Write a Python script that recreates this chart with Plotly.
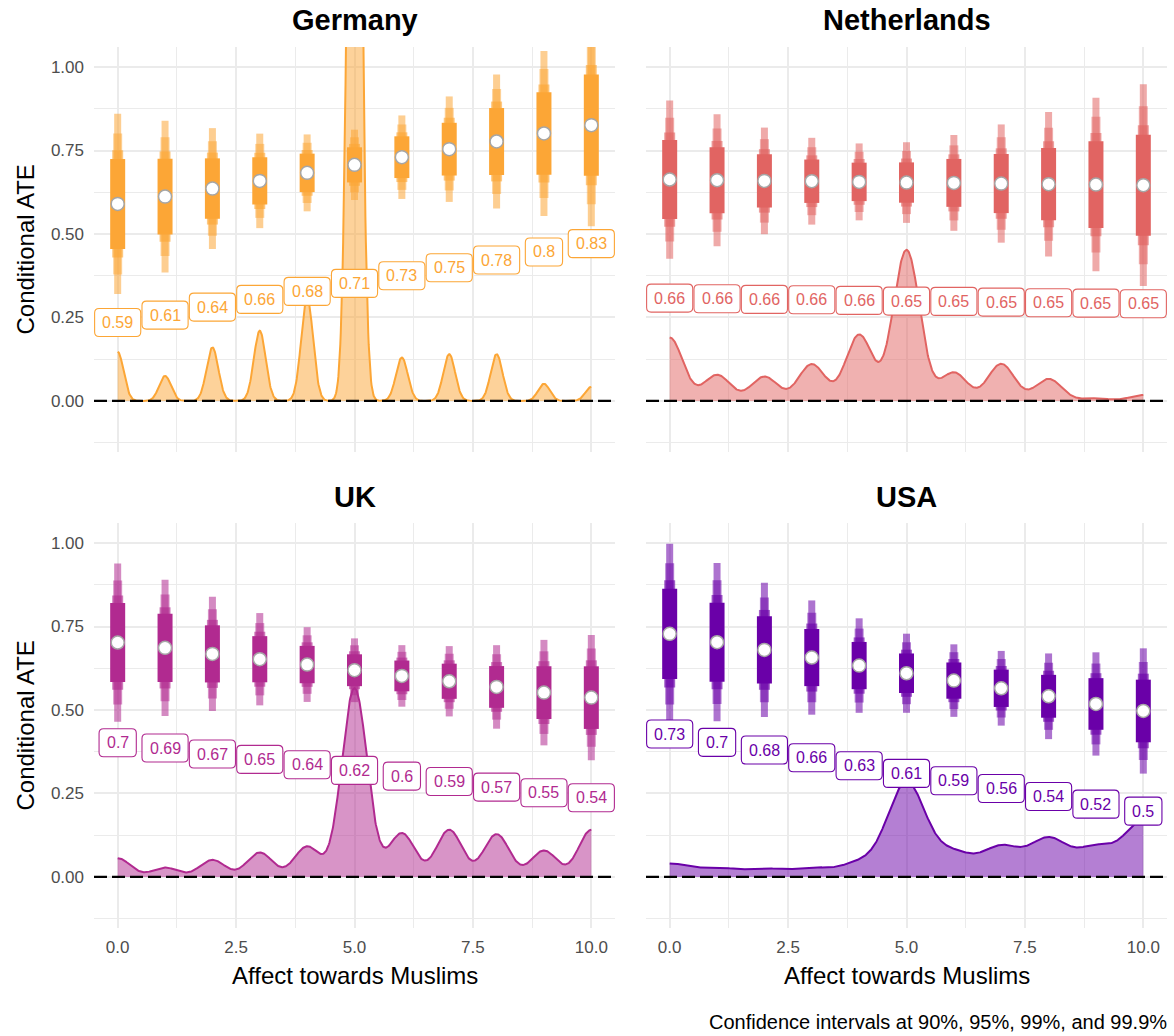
import numpy as np
import plotly.graph_objects as go

# ---------------- data ----------------
countries = ["Germany", "Netherlands", "UK", "USA"]
affect = [0, 1, 2, 3, 4, 5, 6, 7, 8, 9, 10]

ate_germany = [0.590, 0.612, 0.636, 0.659, 0.683, 0.707, 0.730, 0.754, 0.777, 0.801, 0.826]
ate_netherlands = [0.663, 0.661, 0.659, 0.658, 0.656, 0.654, 0.653, 0.651, 0.649, 0.648, 0.646]
ate_uk = [0.702, 0.686, 0.668, 0.652, 0.636, 0.619, 0.602, 0.586, 0.569, 0.552, 0.537]
ate_usa = [0.728, 0.703, 0.680, 0.657, 0.633, 0.610, 0.588, 0.565, 0.541, 0.518, 0.497]

se_germany = [0.082, 0.069, 0.055, 0.043, 0.035, 0.032, 0.038, 0.048, 0.061, 0.075, 0.092]
se_netherlands = [0.072, 0.060, 0.0485, 0.0395, 0.035, 0.0367, 0.0436, 0.0538, 0.0658, 0.0789, 0.0918]
se_uk = [0.072, 0.062, 0.052, 0.042, 0.034, 0.029, 0.028, 0.032, 0.038, 0.048, 0.057]
se_usa = [0.082, 0.072, 0.061, 0.052, 0.043, 0.036, 0.033, 0.034, 0.039, 0.047, 0.057]

# distribution of the moderator (density peak heights at each scale value)
density_germany = [0.147, 0.075, 0.160, 0.210, 0.310, 3.00, 0.130, 0.140, 0.140, 0.051, 0.042]
density_netherlands = [0.190, 0.078, 0.073, 0.110, 0.198, 0.452, 0.085, 0.111, 0.066, 0.008, 0.018]
density_uk = [0.056, 0.028, 0.051, 0.073, 0.091, 0.565, 0.131, 0.141, 0.128, 0.079, 0.141]
density_usa = [0.039, 0.026, 0.024, 0.026, 0.040, 0.280, 0.068, 0.088, 0.112, 0.085, 0.165]
density_bandwidth = [0.125, 0.28, 0.27, 0.40]

ci_levels = ["90%", "95%", "99%", "99.9%"]
ci_z = [1.645, 1.960, 2.576, 3.291]

x_tickvals = [0, 2.5, 5, 7.5, 10]
x_ticktext = ["0.0", "2.5", "5.0", "7.5", "10.0"]
y_tickvals = [0, 0.25, 0.5, 0.75, 1.0]
y_ticktext = ["0.00", "0.25", "0.50", "0.75", "1.00"]

x_title = "Affect towards Muslims"
y_title = "Conditional ATE"
caption = "Confidence intervals at 90%, 95%, 99%, and 99.9%"

# ---------------- style ----------------
colors = ["#FCA636", "#E16462", "#B12A90", "#6A00A8"]
label_offset = [0.355, 0.355, 0.30, 0.30]
ci_width = [15, 11, 9, 7]
ci_alpha = [1.0, 0.6, 0.5, 0.55]
FONT = "Liberation Sans, Arial, Helvetica, sans-serif"
LABEL_SIZE = 16
W, H = 1174, 1036
Y_RANGE = [-0.153, 1.06]

ates = [ate_germany, ate_netherlands, ate_uk, ate_usa]
ses = [se_germany, se_netherlands, se_uk, se_usa]
dens = [density_germany, density_netherlands, density_uk, density_usa]

# panel pixel boxes: (left, right, top, bottom)
panels_px = [(94, 615, 47, 452), (646, 1167, 47, 452),
             (94, 615, 523, 928), (646, 1167, 523, 928)]


def rgba(hexc, a):
    hexc = hexc.lstrip("#")
    r, g, b = int(hexc[0:2], 16), int(hexc[2:4], 16), int(hexc[4:6], 16)
    return f"rgba({r},{g},{b},{a})"


def fmt(v):
    s = f"{round(v, 2):.2f}"
    return s.rstrip("0").rstrip(".")


def text_width(s, size):
    wmap = {".": 0.278}
    return sum(wmap.get(ch, 0.556) for ch in s) * size


def rounded_box(w, h, r):
    a, b = w / 2, h / 2
    return (f"M {-a + r},{-b} L {a - r},{-b} Q {a},{-b} {a},{-b + r} "
            f"L {a},{b - r} Q {a},{b} {a - r},{b} L {-a + r},{b} "
            f"Q {-a},{b} {-a},{b - r} L {-a},{-b + r} Q {-a},{-b} {-a + r},{-b} Z")


fig = go.Figure()
annotations = []
shapes = []

xs = np.linspace(0, 10, 1001)

for i, c in enumerate(countries):
    ax = "" if i == 0 else str(i + 1)
    xref, yref = "x" + ax, "y" + ax
    col = colors[i]
    est = np.array(ates[i])
    se = np.array(ses[i])

    # density
    bw = density_bandwidth[i]
    dy = np.zeros_like(xs)
    for k, p in zip(affect, dens[i]):
        dy += p * np.exp(-((xs - k) ** 2) / (2 * bw ** 2))
    fig.add_trace(go.Scatter(x=xs, y=dy, mode="lines", xaxis=xref, yaxis=yref,
                             line=dict(color=col, width=2), fill="tozeroy",
                             fillcolor=rgba(col, 0.5), hoverinfo="skip",
                             showlegend=False))

    # confidence intervals, widest level first
    for lv in range(len(ci_levels) - 1, -1, -1):
        bx, by = [], []
        for k, e, s in zip(affect, est, se):
            bx += [k, k, None]
            by += [e - ci_z[lv] * s, e + ci_z[lv] * s, None]
        fig.add_trace(go.Scatter(x=bx, y=by, mode="lines", xaxis=xref, yaxis=yref,
                                 line=dict(color=rgba(col, ci_alpha[lv]), width=ci_width[lv]),
                                 name=ci_levels[lv], hoverinfo="skip", showlegend=False))

    # point estimates
    fig.add_trace(go.Scatter(x=affect, y=est, mode="markers", xaxis=xref, yaxis=yref,
                             marker=dict(size=13, color="white",
                                         line=dict(color="#A6A6A6", width=1.5)),
                             showlegend=False))

    # zero line
    shapes.append(dict(type="line", xref=xref + " domain", yref=yref,
                       x0=0, x1=1, y0=0, y1=0, layer="above",
                       line=dict(color="black", width=2.2, dash="13px,5px")))

    # value labels (rounded boxes + text)
    for k, e in zip(affect, est):
        txt = fmt(e)
        ly = e - label_offset[i]
        bw_px = text_width(txt, LABEL_SIZE) + 15
        shapes.append(dict(type="path", xref=xref, yref=yref,
                           xsizemode="pixel", ysizemode="pixel",
                           xanchor=k, yanchor=ly,
                           path=rounded_box(bw_px, 28, 4.5),
                           fillcolor="white", line=dict(color=col, width=1.1),
                           layer="above"))
        annotations.append(dict(x=k, y=ly, xref=xref, yref=yref,
                                text=txt, showarrow=False, yanchor="middle",
                                font=dict(family=FONT, size=LABEL_SIZE, color=col)))

    # facet title
    l, r, t, b = panels_px[i]
    annotations.append(dict(x=(l + r) / 2 / W, y=1 - 20 / H if i < 2 else 1 - 497 / H,
                            xref="paper", yref="paper",
                            text=f"<b>{c}</b>", showarrow=False,
                            xanchor="center", yanchor="middle",
                            font=dict(family=FONT, size=29, color="black")))

    axis_common = dict(gridcolor="#EBEBEB", gridwidth=1.6, zeroline=False,
                       showline=False, ticks="", tickfont=dict(family=FONT, size=17, color="#4D4D4D"))
    fig.layout["xaxis" + ax] = dict(
        domain=[l / W, r / W], range=[-0.5, 10.5], anchor=yref,
        tickvals=x_tickvals, ticktext=x_ticktext, showticklabels=(i >= 2),
        minor=dict(dtick=1.25, tick0=0, showgrid=True, gridcolor="#EBEBEB", gridwidth=0.9),
        ticklabelstandoff=7, **axis_common)
    fig.layout["yaxis" + ax] = dict(
        domain=[1 - b / H, 1 - t / H], range=Y_RANGE, anchor=xref,
        tickvals=y_tickvals, ticktext=y_ticktext, showticklabels=(i % 2 == 0),
        minor=dict(dtick=0.125, tick0=0, showgrid=True, gridcolor="#EBEBEB", gridwidth=0.9),
        ticklabelstandoff=9, **axis_common)

# axis titles
for i in (2, 3):
    l, r, t, b = panels_px[i]
    annotations.append(dict(x=(l + r) / 2 / W, y=1 - 975 / H, xref="paper", yref="paper",
                            text=x_title, showarrow=False, xanchor="center", yanchor="middle",
                            font=dict(family=FONT, size=24, color="black")))
for i in (0, 2):
    l, r, t, b = panels_px[i]
    annotations.append(dict(x=25 / W, y=1 - (t + b) / 2 / H, xref="paper", yref="paper",
                            text=y_title, showarrow=False, textangle=-90,
                            xanchor="center", yanchor="middle",
                            font=dict(family=FONT, size=24, color="black")))
annotations.append(dict(x=1169 / W, y=1 - 1022 / H, xref="paper", yref="paper",
                        text=caption, showarrow=False, xanchor="right", yanchor="middle",
                        font=dict(family=FONT, size=20, color="black")))

fig.update_layout(width=W, height=H, margin=dict(l=0, r=0, t=0, b=0, autoexpand=False),
                  paper_bgcolor="white", plot_bgcolor="white",
                  annotations=annotations, shapes=shapes, showlegend=False)

fig.write_html("out.html", config={"displayModeBar": False},
               post_script="document.body.style.margin='0';document.body.style.overflow='hidden';")
